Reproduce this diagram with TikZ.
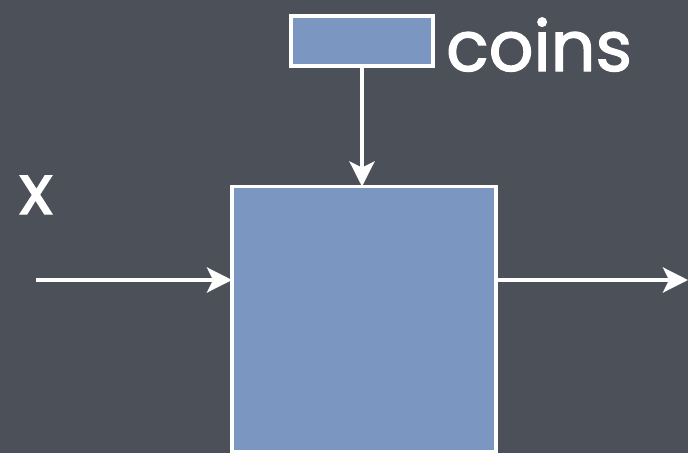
\documentclass[tikz,border=0pt]{standalone}
\usepackage{fontspec}
\setmainfont{Poppins}[FakeBold=1.8]
\usetikzlibrary{arrows.meta}
\definecolor{slate}{HTML}{4C5159}
\definecolor{boxblue}{HTML}{7B97C1}
\tikzset{
  blk/.style={draw=white, line width=3.8pt, fill=boxblue, inner sep=0pt, outer sep=0pt},
  flow/.style={draw=white, line width=3.8pt, -{Stealth[length=25pt, width=25pt, inset=6pt]}},
  lbl/.style={text=white, font=\fontsize{70}{70}\selectfont, inner sep=0pt}
}
\begin{document}
\begin{tikzpicture}[x=1pt, y=-1pt]
  % backdrop
  \fill[slate] (0,0) rectangle (688,453);
  \useasboundingbox (0,0) rectangle (688,453);
  % blocks
  \node[blk, minimum width=142pt, minimum height=50pt] (coinbox) at (362,41) {};
  \node[blk, minimum width=264pt, minimum height=265pt] (main) at (364,319) {};
  % labels
  \node[lbl, anchor=base west] (coins) at (446,71) {coins};
  \node[lbl, anchor=base] (xin) at (36,214) {x};
  % connectors
  \coordinate (src) at (36,280);
  \coordinate (sink) at (688,280);
  \draw[flow] (coinbox.south) -- (coinbox.south |- main.north);
  \draw[flow] (src) -- (src -| main.west);
  \draw[flow] (src -| main.east) -- (sink);
\end{tikzpicture}
\end{document}
